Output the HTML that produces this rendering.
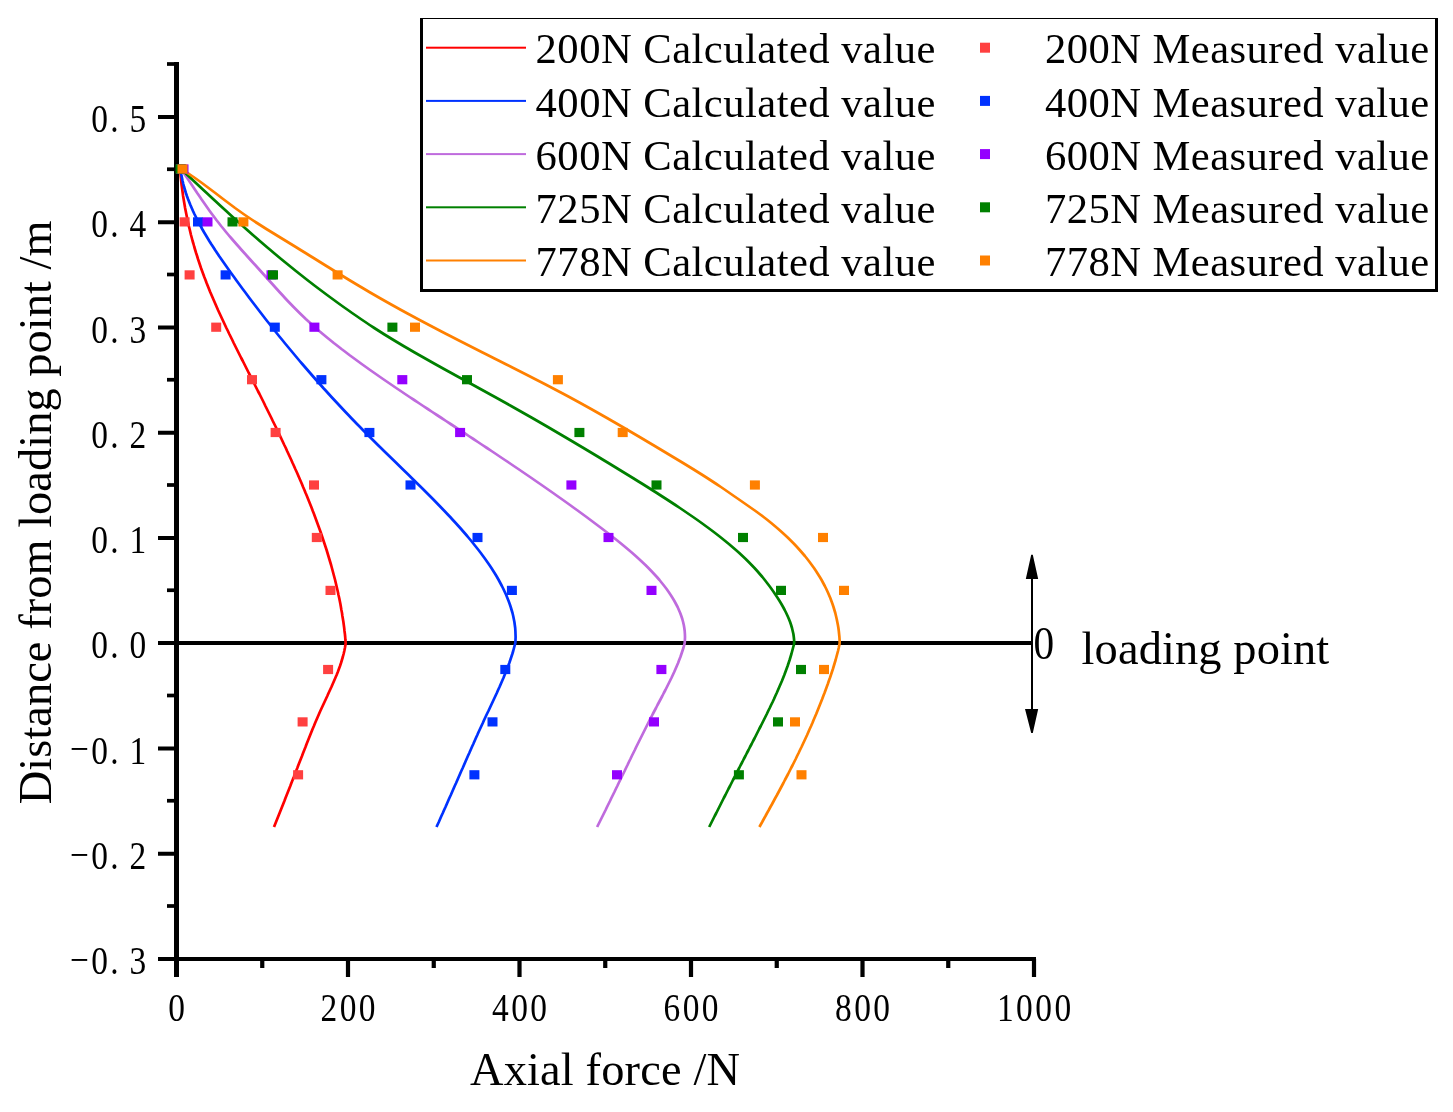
<!DOCTYPE html>
<html lang="en"><head><meta charset="utf-8"><title>Axial force</title>
<style>html,body{margin:0;padding:0;background:#fff;overflow:hidden}svg{display:block}text{font-family:"Liberation Serif",serif;fill:#000}</style></head>
<body><svg width="1453" height="1112" viewBox="0 0 1453 1112">
<rect width="1453" height="1112" fill="#fff"/>
<g fill="#000">
<rect x="174" y="62" width="5" height="915"/>
<rect x="158" y="957" width="878" height="4"/>
<rect x="158" y="641" width="875" height="4"/>
<rect x="158" y="115.00" width="16" height="4"/>
<rect x="158" y="220.25" width="16" height="4"/>
<rect x="158" y="325.50" width="16" height="4"/>
<rect x="158" y="430.75" width="16" height="4"/>
<rect x="158" y="536.00" width="16" height="4"/>
<rect x="158" y="746.50" width="16" height="4"/>
<rect x="158" y="851.75" width="16" height="4"/>
<rect x="167" y="62.15" width="8" height="3.7"/>
<rect x="167" y="167.40" width="8" height="3.7"/>
<rect x="167" y="272.65" width="8" height="3.7"/>
<rect x="167" y="377.90" width="8" height="3.7"/>
<rect x="167" y="483.15" width="8" height="3.7"/>
<rect x="167" y="588.40" width="8" height="3.7"/>
<rect x="167" y="693.65" width="8" height="3.7"/>
<rect x="167" y="798.90" width="8" height="3.7"/>
<rect x="167" y="904.15" width="8" height="3.7"/>
<rect x="345.90" y="959" width="4.2" height="18"/>
<rect x="517.40" y="959" width="4.2" height="18"/>
<rect x="688.90" y="959" width="4.2" height="18"/>
<rect x="860.40" y="959" width="4.2" height="18"/>
<rect x="1031.90" y="959" width="4.2" height="18"/>
<rect x="260.15" y="959" width="4.2" height="9"/>
<rect x="431.65" y="959" width="4.2" height="9"/>
<rect x="603.15" y="959" width="4.2" height="9"/>
<rect x="774.65" y="959" width="4.2" height="9"/>
<rect x="946.15" y="959" width="4.2" height="9"/>
</g>
<g fill="none" stroke-width="2.7" stroke-linejoin="round">
<path d="M180.1,169.0 L180.3,172.0 L180.6,175.0 L180.9,178.0 L181.2,181.0 L181.5,184.0 L181.9,187.0 L182.3,190.0 L182.7,193.0 L183.1,196.0 L183.6,199.0 L184.1,202.0 L184.6,205.0 L185.1,208.0 L185.7,211.0 L186.3,214.0 L186.9,217.0 L187.5,220.0 L188.2,223.0 L188.8,226.0 L189.6,229.0 L190.3,232.0 L191.0,235.0 L191.8,238.0 L192.6,241.0 L193.5,244.0 L194.3,247.0 L195.2,250.0 L196.1,253.0 L197.1,256.0 L198.0,259.0 L199.0,262.0 L200.0,265.0 L201.0,268.0 L202.1,271.0 L203.2,274.0 L204.3,277.0 L205.5,280.0 L206.6,283.0 L207.8,286.0 L209.0,289.0 L210.2,292.0 L211.5,295.0 L212.8,298.0 L214.1,301.0 L215.4,304.0 L216.7,307.0 L218.0,310.0 L219.4,313.0 L220.8,316.0 L222.2,319.0 L223.6,322.0 L225.0,325.0 L226.4,328.0 L227.9,331.0 L229.3,334.0 L230.8,337.0 L232.3,340.0 L233.7,343.0 L235.2,346.0 L236.7,349.0 L238.2,352.0 L239.7,355.0 L241.2,358.0 L242.8,361.0 L244.3,364.0 L245.8,367.0 L247.3,370.0 L248.8,373.0 L250.4,376.0 L251.9,379.0 L253.4,382.0 L254.9,385.0 L256.4,388.0 L257.9,391.0 L259.5,394.0 L261.0,397.0 L262.5,400.0 L264.0,403.0 L265.4,406.0 L266.9,409.0 L268.4,412.0 L269.9,415.0 L271.4,418.0 L272.8,421.0 L274.3,424.0 L275.8,427.0 L277.2,430.0 L278.7,433.0 L280.1,436.0 L281.5,439.0 L282.9,442.0 L284.3,445.0 L285.8,448.0 L287.1,451.0 L288.5,454.0 L289.9,457.0 L291.3,460.0 L292.6,463.0 L294.0,466.0 L295.3,469.0 L296.7,472.0 L298.0,475.0 L299.3,478.0 L300.6,481.0 L301.9,484.0 L303.1,487.0 L304.4,490.0 L305.6,493.0 L306.9,496.0 L308.1,499.0 L309.3,502.0 L310.5,505.0 L311.7,508.0 L312.8,511.0 L314.0,514.0 L315.1,517.0 L316.2,520.0 L317.3,523.0 L318.4,526.0 L319.5,529.0 L320.6,532.0 L321.6,535.0 L322.6,538.0 L323.6,541.0 L324.6,544.0 L325.6,547.0 L326.6,550.0 L327.5,553.0 L328.4,556.0 L329.3,559.0 L330.2,562.0 L331.1,565.0 L331.9,568.0 L332.7,571.0 L333.5,574.0 L334.3,577.0 L335.1,580.0 L335.8,583.0 L336.5,586.0 L337.2,589.0 L337.9,592.0 L338.5,595.0 L339.2,598.0 L339.8,601.0 L340.4,604.0 L340.9,607.0 L341.4,610.0 L342.0,613.0 L342.4,616.0 L342.9,619.0 L343.4,622.0 L343.8,625.0 L344.2,628.0 L344.5,631.0 L344.9,634.0 L345.2,637.0 L345.4,640.0 L345.7,643.0 L345.4,645.0 L344.9,648.0 L344.3,651.0 L343.6,654.0 L342.8,657.0 L341.9,660.0 L341.0,663.0 L340.0,666.0 L338.9,669.0 L337.8,672.0 L336.6,675.0 L335.3,678.0 L334.0,681.0 L332.7,684.0 L331.4,687.0 L330.0,690.0 L328.6,693.0 L327.3,696.0 L325.9,699.0 L324.5,702.0 L323.1,705.0 L321.7,708.0 L320.3,711.0 L319.0,714.0 L317.7,717.0 L316.4,720.0 L315.1,723.0 L313.9,726.0 L312.6,729.0 L311.4,732.0 L310.2,735.0 L309.0,738.0 L307.8,741.0 L306.6,744.0 L305.5,747.0 L304.3,750.0 L303.1,753.0 L302.0,756.0 L300.8,759.0 L299.6,762.0 L298.4,765.0 L297.3,768.0 L296.1,771.0 L294.9,774.0 L293.8,777.0 L292.6,780.0 L291.4,783.0 L290.3,786.0 L289.1,789.0 L287.9,792.0 L286.7,795.0 L285.5,798.0 L284.4,801.0 L283.2,804.0 L282.0,807.0 L280.8,810.0 L279.6,813.0 L278.4,816.0 L277.2,819.0 L276.0,822.0 L274.8,825.0 L274.0,827.0" stroke="#ff0000"/>
<path d="M180.5,169.0 L180.9,172.0 L181.4,175.0 L182.0,178.0 L182.6,181.0 L183.3,184.0 L184.1,187.0 L185.0,190.0 L185.9,193.0 L186.9,196.0 L188.0,199.0 L189.2,202.0 L190.4,205.0 L191.7,208.0 L193.0,211.0 L194.4,214.0 L195.9,217.0 L197.4,220.0 L198.9,223.0 L200.6,226.0 L202.2,229.0 L203.9,232.0 L205.7,235.0 L207.5,238.0 L209.3,241.0 L211.2,244.0 L213.2,247.0 L215.1,250.0 L217.1,253.0 L219.1,256.0 L221.2,259.0 L223.3,262.0 L225.4,265.0 L227.5,268.0 L229.6,271.0 L231.8,274.0 L234.0,277.0 L236.1,280.0 L238.3,283.0 L240.5,286.0 L242.7,289.0 L245.0,292.0 L247.2,295.0 L249.4,298.0 L251.7,301.0 L254.0,304.0 L256.3,307.0 L258.6,310.0 L260.9,313.0 L263.2,316.0 L265.5,319.0 L267.9,322.0 L270.3,325.0 L272.6,328.0 L275.0,331.0 L277.4,334.0 L279.8,337.0 L282.3,340.0 L284.7,343.0 L287.2,346.0 L289.7,349.0 L292.2,352.0 L294.7,355.0 L297.2,358.0 L299.7,361.0 L302.3,364.0 L304.9,367.0 L307.5,370.0 L310.1,373.0 L312.7,376.0 L315.3,379.0 L318.0,382.0 L320.7,385.0 L323.3,388.0 L326.1,391.0 L328.8,394.0 L331.5,397.0 L334.3,400.0 L337.1,403.0 L339.9,406.0 L342.7,409.0 L345.5,412.0 L348.4,415.0 L351.2,418.0 L354.1,421.0 L357.0,424.0 L360.0,427.0 L362.9,430.0 L365.9,433.0 L368.9,436.0 L371.9,439.0 L374.9,442.0 L377.9,445.0 L381.0,448.0 L384.0,451.0 L387.1,454.0 L390.2,457.0 L393.3,460.0 L396.4,463.0 L399.4,466.0 L402.5,469.0 L405.6,472.0 L408.7,475.0 L411.7,478.0 L414.8,481.0 L417.8,484.0 L420.9,487.0 L423.9,490.0 L426.9,493.0 L429.9,496.0 L432.9,499.0 L435.8,502.0 L438.7,505.0 L441.6,508.0 L444.5,511.0 L447.3,514.0 L450.2,517.0 L452.9,520.0 L455.7,523.0 L458.4,526.0 L461.1,529.0 L463.7,532.0 L466.3,535.0 L468.8,538.0 L471.3,541.0 L473.7,544.0 L476.1,547.0 L478.5,550.0 L480.8,553.0 L483.0,556.0 L485.2,559.0 L487.3,562.0 L489.4,565.0 L491.4,568.0 L493.3,571.0 L495.2,574.0 L497.0,577.0 L498.7,580.0 L500.3,583.0 L501.9,586.0 L503.4,589.0 L504.8,592.0 L506.2,595.0 L507.4,598.0 L508.6,601.0 L509.7,604.0 L510.7,607.0 L511.6,610.0 L512.5,613.0 L513.2,616.0 L513.8,619.0 L514.4,622.0 L514.8,625.0 L515.2,628.0 L515.4,631.0 L515.5,634.0 L515.6,637.0 L515.5,640.0 L515.3,643.0 L514.8,645.0 L514.0,648.0 L513.2,651.0 L512.3,654.0 L511.3,657.0 L510.3,660.0 L509.3,663.0 L508.2,666.0 L507.0,669.0 L505.9,672.0 L504.6,675.0 L503.4,678.0 L502.1,681.0 L500.8,684.0 L499.5,687.0 L498.1,690.0 L496.8,693.0 L495.4,696.0 L494.0,699.0 L492.6,702.0 L491.2,705.0 L489.8,708.0 L488.4,711.0 L486.9,714.0 L485.5,717.0 L484.1,720.0 L482.8,723.0 L481.4,726.0 L480.0,729.0 L478.6,732.0 L477.3,735.0 L475.9,738.0 L474.6,741.0 L473.3,744.0 L471.9,747.0 L470.6,750.0 L469.3,753.0 L467.9,756.0 L466.6,759.0 L465.3,762.0 L464.0,765.0 L462.7,768.0 L461.3,771.0 L460.0,774.0 L458.7,777.0 L457.4,780.0 L456.1,783.0 L454.7,786.0 L453.4,789.0 L452.1,792.0 L450.8,795.0 L449.4,798.0 L448.1,801.0 L446.8,804.0 L445.5,807.0 L444.1,810.0 L442.8,813.0 L441.4,816.0 L440.1,819.0 L438.8,822.0 L437.4,825.0 L436.5,827.0" stroke="#0032ff"/>
<path d="M181.0,169.0 L183.1,172.0 L185.1,175.0 L187.2,178.0 L189.2,181.0 L191.2,184.0 L193.2,187.0 L195.2,190.0 L197.2,193.0 L199.3,196.0 L201.3,199.0 L203.4,202.0 L205.5,205.0 L207.6,208.0 L209.7,211.0 L211.9,214.0 L214.2,217.0 L216.4,220.0 L218.8,223.0 L221.1,226.0 L223.6,229.0 L226.0,232.0 L228.5,235.0 L231.1,238.0 L233.7,241.0 L236.3,244.0 L239.0,247.0 L241.6,250.0 L244.3,253.0 L247.0,256.0 L249.7,259.0 L252.4,262.0 L255.2,265.0 L257.9,268.0 L260.6,271.0 L263.3,274.0 L266.0,277.0 L268.7,280.0 L271.4,283.0 L274.1,286.0 L276.8,289.0 L279.5,292.0 L282.3,295.0 L285.0,298.0 L287.8,301.0 L290.7,304.0 L293.6,307.0 L296.6,310.0 L299.6,313.0 L302.7,316.0 L305.8,319.0 L309.1,322.0 L312.4,325.0 L315.8,328.0 L319.2,331.0 L322.8,334.0 L326.4,337.0 L330.1,340.0 L333.8,343.0 L337.7,346.0 L341.5,349.0 L345.5,352.0 L349.4,355.0 L353.5,358.0 L357.6,361.0 L361.7,364.0 L365.9,367.0 L370.1,370.0 L374.4,373.0 L378.7,376.0 L383.0,379.0 L387.4,382.0 L391.8,385.0 L396.2,388.0 L400.7,391.0 L405.1,394.0 L409.6,397.0 L414.2,400.0 L418.7,403.0 L423.2,406.0 L427.8,409.0 L432.3,412.0 L436.9,415.0 L441.5,418.0 L446.0,421.0 L450.6,424.0 L455.2,427.0 L459.7,430.0 L464.3,433.0 L468.8,436.0 L473.4,439.0 L477.9,442.0 L482.4,445.0 L487.0,448.0 L491.5,451.0 L496.0,454.0 L500.4,457.0 L504.9,460.0 L509.4,463.0 L513.8,466.0 L518.3,469.0 L522.7,472.0 L527.1,475.0 L531.5,478.0 L535.8,481.0 L540.2,484.0 L544.5,487.0 L548.8,490.0 L553.1,493.0 L557.3,496.0 L561.6,499.0 L565.8,502.0 L570.0,505.0 L574.1,508.0 L578.3,511.0 L582.4,514.0 L586.5,517.0 L590.5,520.0 L594.5,523.0 L598.5,526.0 L602.5,529.0 L606.4,532.0 L610.3,535.0 L614.1,538.0 L617.9,541.0 L621.6,544.0 L625.2,547.0 L628.8,550.0 L632.3,553.0 L635.7,556.0 L639.0,559.0 L642.2,562.0 L645.4,565.0 L648.4,568.0 L651.3,571.0 L654.1,574.0 L656.9,577.0 L659.5,580.0 L661.9,583.0 L664.3,586.0 L666.6,589.0 L668.7,592.0 L670.7,595.0 L672.6,598.0 L674.4,601.0 L676.0,604.0 L677.6,607.0 L678.9,610.0 L680.2,613.0 L681.3,616.0 L682.3,619.0 L683.1,622.0 L683.8,625.0 L684.3,628.0 L684.7,631.0 L684.9,634.0 L685.0,637.0 L684.9,640.0 L684.7,643.0 L684.2,645.0 L683.4,648.0 L682.4,651.0 L681.4,654.0 L680.4,657.0 L679.2,660.0 L678.1,663.0 L676.8,666.0 L675.5,669.0 L674.2,672.0 L672.8,675.0 L671.4,678.0 L669.9,681.0 L668.4,684.0 L666.9,687.0 L665.4,690.0 L663.8,693.0 L662.3,696.0 L660.7,699.0 L659.1,702.0 L657.5,705.0 L656.0,708.0 L654.4,711.0 L652.8,714.0 L651.3,717.0 L649.7,720.0 L648.2,723.0 L646.7,726.0 L645.2,729.0 L643.7,732.0 L642.2,735.0 L640.7,738.0 L639.2,741.0 L637.7,744.0 L636.2,747.0 L634.8,750.0 L633.3,753.0 L631.8,756.0 L630.4,759.0 L628.9,762.0 L627.5,765.0 L626.0,768.0 L624.6,771.0 L623.1,774.0 L621.6,777.0 L620.2,780.0 L618.7,783.0 L617.3,786.0 L615.8,789.0 L614.4,792.0 L612.9,795.0 L611.4,798.0 L610.0,801.0 L608.5,804.0 L607.0,807.0 L605.6,810.0 L604.1,813.0 L602.6,816.0 L601.1,819.0 L599.6,822.0 L598.1,825.0 L597.1,827.0" stroke="#bf6bdd"/>
<path d="M181.0,169.0 L184.2,172.0 L187.4,175.0 L190.6,178.0 L193.8,181.0 L197.0,184.0 L200.2,187.0 L203.4,190.0 L206.7,193.0 L209.9,196.0 L213.1,199.0 L216.4,202.0 L219.6,205.0 L222.9,208.0 L226.2,211.0 L229.4,214.0 L232.7,217.0 L236.1,220.0 L239.4,223.0 L242.8,226.0 L246.1,229.0 L249.5,232.0 L252.9,235.0 L256.4,238.0 L259.8,241.0 L263.3,244.0 L266.8,247.0 L270.4,250.0 L273.9,253.0 L277.5,256.0 L281.1,259.0 L284.8,262.0 L288.5,265.0 L292.2,268.0 L295.9,271.0 L299.7,274.0 L303.5,277.0 L307.3,280.0 L311.2,283.0 L315.1,286.0 L319.1,289.0 L323.1,292.0 L327.1,295.0 L331.2,298.0 L335.3,301.0 L339.4,304.0 L343.6,307.0 L347.9,310.0 L352.1,313.0 L356.5,316.0 L360.8,319.0 L365.3,322.0 L369.7,325.0 L374.3,328.0 L379.0,331.0 L383.7,334.0 L388.6,337.0 L393.5,340.0 L398.5,343.0 L403.5,346.0 L408.7,349.0 L413.8,352.0 L419.1,355.0 L424.4,358.0 L429.7,361.0 L435.0,364.0 L440.4,367.0 L445.8,370.0 L451.3,373.0 L456.7,376.0 L462.2,379.0 L467.7,382.0 L473.2,385.0 L478.6,388.0 L484.1,391.0 L489.5,394.0 L495.0,397.0 L500.4,400.0 L505.8,403.0 L511.1,406.0 L516.4,409.0 L521.7,412.0 L527.0,415.0 L532.3,418.0 L537.5,421.0 L542.7,424.0 L547.9,427.0 L553.0,430.0 L558.1,433.0 L563.2,436.0 L568.3,439.0 L573.4,442.0 L578.4,445.0 L583.5,448.0 L588.5,451.0 L593.5,454.0 L598.5,457.0 L603.4,460.0 L608.4,463.0 L613.3,466.0 L618.2,469.0 L623.1,472.0 L628.0,475.0 L632.9,478.0 L637.7,481.0 L642.6,484.0 L647.4,487.0 L652.1,490.0 L656.9,493.0 L661.5,496.0 L666.2,499.0 L670.8,502.0 L675.4,505.0 L679.9,508.0 L684.3,511.0 L688.7,514.0 L693.1,517.0 L697.4,520.0 L701.6,523.0 L705.7,526.0 L709.8,529.0 L713.8,532.0 L717.7,535.0 L721.5,538.0 L725.2,541.0 L728.9,544.0 L732.4,547.0 L735.9,550.0 L739.3,553.0 L742.5,556.0 L745.7,559.0 L748.7,562.0 L751.6,565.0 L754.5,568.0 L757.2,571.0 L759.8,574.0 L762.4,577.0 L764.8,580.0 L767.1,583.0 L769.4,586.0 L771.6,589.0 L773.7,592.0 L775.7,595.0 L777.7,598.0 L779.6,601.0 L781.4,604.0 L783.1,607.0 L784.7,610.0 L786.2,613.0 L787.6,616.0 L788.9,619.0 L790.1,622.0 L791.1,625.0 L792.0,628.0 L792.7,631.0 L793.4,634.0 L793.8,637.0 L794.1,640.0 L794.2,643.0 L793.8,645.0 L793.0,648.0 L792.2,651.0 L791.4,654.0 L790.5,657.0 L789.6,660.0 L788.6,663.0 L787.6,666.0 L786.5,669.0 L785.4,672.0 L784.3,675.0 L783.1,678.0 L781.9,681.0 L780.6,684.0 L779.3,687.0 L778.0,690.0 L776.7,693.0 L775.3,696.0 L774.0,699.0 L772.6,702.0 L771.1,705.0 L769.7,708.0 L768.2,711.0 L766.8,714.0 L765.3,717.0 L763.8,720.0 L762.3,723.0 L760.8,726.0 L759.2,729.0 L757.7,732.0 L756.2,735.0 L754.7,738.0 L753.1,741.0 L751.6,744.0 L750.0,747.0 L748.5,750.0 L746.9,753.0 L745.4,756.0 L743.8,759.0 L742.3,762.0 L740.7,765.0 L739.2,768.0 L737.6,771.0 L736.1,774.0 L734.6,777.0 L733.0,780.0 L731.5,783.0 L730.0,786.0 L728.4,789.0 L726.9,792.0 L725.4,795.0 L723.8,798.0 L722.3,801.0 L720.8,804.0 L719.3,807.0 L717.8,810.0 L716.3,813.0 L714.7,816.0 L713.2,819.0 L711.7,822.0 L710.2,825.0 L709.2,827.0" stroke="#008000"/>
<path d="M181.5,169.0 L186.1,172.0 L190.6,175.0 L195.0,178.0 L199.2,181.0 L203.3,184.0 L207.3,187.0 L211.3,190.0 L215.3,193.0 L219.2,196.0 L223.1,199.0 L227.1,202.0 L231.1,205.0 L235.1,208.0 L239.3,211.0 L243.5,214.0 L247.9,217.0 L252.4,220.0 L257.0,223.0 L261.7,226.0 L266.4,229.0 L271.3,232.0 L276.2,235.0 L281.1,238.0 L286.0,241.0 L290.9,244.0 L295.8,247.0 L300.6,250.0 L305.5,253.0 L310.3,256.0 L315.2,259.0 L320.0,262.0 L324.8,265.0 L329.7,268.0 L334.5,271.0 L339.4,274.0 L344.3,277.0 L349.2,280.0 L354.2,283.0 L359.2,286.0 L364.3,289.0 L369.3,292.0 L374.5,295.0 L379.7,298.0 L385.0,301.0 L390.3,304.0 L395.7,307.0 L401.1,310.0 L406.6,313.0 L412.2,316.0 L417.7,319.0 L423.4,322.0 L429.1,325.0 L434.8,328.0 L440.5,331.0 L446.3,334.0 L452.2,337.0 L458.0,340.0 L463.9,343.0 L469.8,346.0 L475.7,349.0 L481.6,352.0 L487.6,355.0 L493.5,358.0 L499.5,361.0 L505.4,364.0 L511.4,367.0 L517.3,370.0 L523.2,373.0 L529.1,376.0 L534.9,379.0 L540.8,382.0 L546.6,385.0 L552.3,388.0 L558.0,391.0 L563.7,394.0 L569.3,397.0 L574.8,400.0 L580.3,403.0 L585.7,406.0 L591.1,409.0 L596.4,412.0 L601.7,415.0 L607.0,418.0 L612.2,421.0 L617.4,424.0 L622.6,427.0 L627.7,430.0 L632.8,433.0 L637.9,436.0 L643.0,439.0 L648.0,442.0 L653.1,445.0 L658.1,448.0 L663.1,451.0 L668.1,454.0 L673.1,457.0 L678.1,460.0 L683.1,463.0 L688.0,466.0 L692.9,469.0 L697.7,472.0 L702.5,475.0 L707.2,478.0 L711.8,481.0 L716.4,484.0 L720.9,487.0 L725.3,490.0 L729.6,493.0 L733.9,496.0 L738.3,499.0 L742.6,502.0 L746.9,505.0 L751.2,508.0 L755.5,511.0 L759.6,514.0 L763.6,517.0 L767.5,520.0 L771.2,523.0 L774.8,526.0 L778.3,529.0 L781.7,532.0 L785.0,535.0 L788.2,538.0 L791.2,541.0 L794.2,544.0 L797.0,547.0 L799.7,550.0 L802.3,553.0 L804.9,556.0 L807.3,559.0 L809.6,562.0 L811.8,565.0 L814.0,568.0 L816.0,571.0 L817.9,574.0 L819.8,577.0 L821.6,580.0 L823.2,583.0 L824.8,586.0 L826.3,589.0 L827.7,592.0 L829.0,595.0 L830.3,598.0 L831.4,601.0 L832.5,604.0 L833.5,607.0 L834.4,610.0 L835.3,613.0 L836.0,616.0 L836.7,619.0 L837.3,622.0 L837.9,625.0 L838.4,628.0 L838.8,631.0 L839.1,634.0 L839.4,637.0 L839.6,640.0 L839.7,643.0 L839.3,645.0 L838.7,648.0 L838.0,651.0 L837.2,654.0 L836.4,657.0 L835.6,660.0 L834.7,663.0 L833.8,666.0 L832.9,669.0 L831.9,672.0 L830.9,675.0 L829.9,678.0 L828.8,681.0 L827.8,684.0 L826.7,687.0 L825.6,690.0 L824.5,693.0 L823.3,696.0 L822.2,699.0 L821.0,702.0 L819.8,705.0 L818.6,708.0 L817.4,711.0 L816.2,714.0 L814.9,717.0 L813.6,720.0 L812.4,723.0 L811.1,726.0 L809.7,729.0 L808.4,732.0 L807.1,735.0 L805.7,738.0 L804.3,741.0 L802.9,744.0 L801.5,747.0 L800.0,750.0 L798.6,753.0 L797.1,756.0 L795.7,759.0 L794.2,762.0 L792.7,765.0 L791.1,768.0 L789.6,771.0 L788.1,774.0 L786.5,777.0 L784.9,780.0 L783.4,783.0 L781.8,786.0 L780.2,789.0 L778.6,792.0 L777.0,795.0 L775.3,798.0 L773.7,801.0 L772.1,804.0 L770.4,807.0 L768.8,810.0 L767.1,813.0 L765.5,816.0 L763.8,819.0 L762.2,822.0 L760.5,825.0 L759.4,827.0" stroke="#ff8000"/>
</g>
<g fill="#ff4040"><rect x="176.0" y="164.4" width="10" height="9.2"/><rect x="179.6" y="217.3" width="10" height="9.2"/><rect x="184.6" y="270.3" width="10" height="9.2"/><rect x="211.2" y="322.6" width="10" height="9.2"/><rect x="247.0" y="375.1" width="10" height="9.2"/><rect x="270.6" y="427.9" width="10" height="9.2"/><rect x="309.0" y="480.4" width="10" height="9.2"/><rect x="311.8" y="532.9" width="10" height="9.2"/><rect x="325.5" y="585.8" width="10" height="9.2"/><rect x="323.1" y="664.9" width="10" height="9.2"/><rect x="297.6" y="717.3" width="10" height="9.2"/><rect x="293.1" y="770.2" width="10" height="9.2"/></g>
<g fill="#0032ff"><rect x="176.0" y="164.4" width="10" height="9.2"/><rect x="193.0" y="217.3" width="10" height="9.2"/><rect x="220.6" y="270.3" width="10" height="9.2"/><rect x="269.8" y="322.6" width="10" height="9.2"/><rect x="316.4" y="375.1" width="10" height="9.2"/><rect x="364.4" y="427.9" width="10" height="9.2"/><rect x="405.5" y="480.4" width="10" height="9.2"/><rect x="472.5" y="532.9" width="10" height="9.2"/><rect x="506.9" y="585.8" width="10" height="9.2"/><rect x="500.3" y="664.9" width="10" height="9.2"/><rect x="487.5" y="717.3" width="10" height="9.2"/><rect x="469.4" y="770.2" width="10" height="9.2"/></g>
<g fill="#9400ff"><rect x="178.5" y="164.4" width="10" height="9.2"/><rect x="202.5" y="217.3" width="10" height="9.2"/><rect x="266.5" y="270.3" width="10" height="9.2"/><rect x="309.4" y="322.6" width="10" height="9.2"/><rect x="397.3" y="375.1" width="10" height="9.2"/><rect x="455.1" y="427.9" width="10" height="9.2"/><rect x="566.4" y="480.4" width="10" height="9.2"/><rect x="603.5" y="532.9" width="10" height="9.2"/><rect x="646.5" y="585.8" width="10" height="9.2"/><rect x="656.4" y="664.9" width="10" height="9.2"/><rect x="649.0" y="717.3" width="10" height="9.2"/><rect x="612.0" y="770.2" width="10" height="9.2"/></g>
<g fill="#008000"><rect x="175.5" y="164.4" width="10" height="9.2"/><rect x="227.5" y="217.3" width="10" height="9.2"/><rect x="268.0" y="270.3" width="10" height="9.2"/><rect x="387.4" y="322.6" width="10" height="9.2"/><rect x="462.0" y="375.1" width="10" height="9.2"/><rect x="574.4" y="427.9" width="10" height="9.2"/><rect x="651.5" y="480.4" width="10" height="9.2"/><rect x="738.0" y="532.9" width="10" height="9.2"/><rect x="776.0" y="585.8" width="10" height="9.2"/><rect x="796.0" y="664.9" width="10" height="9.2"/><rect x="773.0" y="717.3" width="10" height="9.2"/><rect x="733.9" y="770.2" width="10" height="9.2"/></g>
<g fill="#ff8000"><rect x="177.5" y="164.4" width="10" height="9.2"/><rect x="238.4" y="217.3" width="10" height="9.2"/><rect x="332.6" y="270.3" width="10" height="9.2"/><rect x="410.0" y="322.6" width="10" height="9.2"/><rect x="552.9" y="375.1" width="10" height="9.2"/><rect x="617.7" y="427.9" width="10" height="9.2"/><rect x="749.9" y="480.4" width="10" height="9.2"/><rect x="818.0" y="532.9" width="10" height="9.2"/><rect x="839.0" y="585.8" width="10" height="9.2"/><rect x="819.0" y="664.9" width="10" height="9.2"/><rect x="790.0" y="717.3" width="10" height="9.2"/><rect x="796.5" y="770.2" width="10" height="9.2"/></g>

<text transform="translate(0,132.0) scale(0.85,1)" font-size="39.3" x="107.24 129.76 152.29">0.5</text>
<text transform="translate(0,237.2) scale(0.85,1)" font-size="39.3" x="107.24 129.76 152.29">0.4</text>
<text transform="translate(0,342.5) scale(0.85,1)" font-size="39.3" x="107.24 129.76 152.29">0.3</text>
<text transform="translate(0,447.8) scale(0.85,1)" font-size="39.3" x="107.24 129.76 152.29">0.2</text>
<text transform="translate(0,553.0) scale(0.85,1)" font-size="39.3" x="107.24 129.76 152.29">0.1</text>
<text transform="translate(0,658.2) scale(0.85,1)" font-size="39.3" x="107.24 129.76 152.29">0.0</text>
<text transform="translate(0,763.5) scale(0.85,1)" font-size="39.3" x="82.47 107.24 129.76 152.29" dy="-1.1 1.1">−0.1</text>
<text transform="translate(0,868.8) scale(0.85,1)" font-size="39.3" x="82.47 107.24 129.76 152.29" dy="-1.1 1.1">−0.2</text>
<text transform="translate(0,974.0) scale(0.85,1)" font-size="39.3" x="82.47 107.24 129.76 152.29" dy="-1.1 1.1">−0.3</text>
<text transform="translate(0,1021.3) scale(0.85,1)" font-size="39.3" x="197.85">0</text>
<text transform="translate(0,1021.3) scale(0.85,1)" font-size="39.3" x="377.09 399.62 422.15">200</text>
<text transform="translate(0,1021.3) scale(0.85,1)" font-size="39.3" x="578.85 601.38 623.91">400</text>
<text transform="translate(0,1021.3) scale(0.85,1)" font-size="39.3" x="780.62 803.15 825.68">600</text>
<text transform="translate(0,1021.3) scale(0.85,1)" font-size="39.3" x="982.38 1004.91 1027.44">800</text>
<text transform="translate(0,1021.3) scale(0.85,1)" font-size="39.3" x="1172.88 1195.41 1217.94 1240.47">1000</text>
<text x="470" y="1085.3" font-size="46.4" textLength="270" lengthAdjust="spacing">Axial force /N</text>
<text transform="translate(50.8,804.2) rotate(-90)" font-size="46.4" textLength="583.8" lengthAdjust="spacing">Distance from loading point /m</text>
<g fill="#000" shape-rendering="crispEdges"><rect x="420" y="18" width="3" height="274"/><rect x="1435" y="18" width="3" height="274"/><rect x="420" y="289" width="1018" height="3"/><rect x="420" y="18" width="1018" height="1"/></g>
<rect x="426" y="46.7" width="100" height="2" fill="#ff0000"/>
<text x="535.6" y="63.4" font-size="42.6" textLength="399.8" lengthAdjust="spacing">200N Calculated value</text>
<rect x="980" y="42.7" width="10" height="10" fill="#ff4040"/>
<text x="1045" y="63.4" font-size="42.6" textLength="384.2" lengthAdjust="spacing">200N Measured value</text>
<rect x="426" y="99.9" width="100" height="2" fill="#0032ff"/>
<text x="535.6" y="116.6" font-size="42.6" textLength="399.8" lengthAdjust="spacing">400N Calculated value</text>
<rect x="980" y="95.9" width="10" height="10" fill="#0032ff"/>
<text x="1045" y="116.6" font-size="42.6" textLength="384.2" lengthAdjust="spacing">400N Measured value</text>
<rect x="426" y="153.1" width="100" height="2" fill="#bf6bdd"/>
<text x="535.6" y="169.8" font-size="42.6" textLength="399.8" lengthAdjust="spacing">600N Calculated value</text>
<rect x="980" y="149.1" width="10" height="10" fill="#9400ff"/>
<text x="1045" y="169.8" font-size="42.6" textLength="384.2" lengthAdjust="spacing">600N Measured value</text>
<rect x="426" y="206.3" width="100" height="2" fill="#008000"/>
<text x="535.6" y="223.0" font-size="42.6" textLength="399.8" lengthAdjust="spacing">725N Calculated value</text>
<rect x="980" y="202.3" width="10" height="10" fill="#008000"/>
<text x="1045" y="223.0" font-size="42.6" textLength="384.2" lengthAdjust="spacing">725N Measured value</text>
<rect x="426" y="259.5" width="100" height="2" fill="#ff8000"/>
<text x="535.6" y="276.2" font-size="42.6" textLength="399.8" lengthAdjust="spacing">778N Calculated value</text>
<rect x="980" y="255.5" width="10" height="10" fill="#ff8000"/>
<text x="1045" y="276.2" font-size="42.6" textLength="384.2" lengthAdjust="spacing">778N Measured value</text>
<rect x="1031" y="570" width="2" height="150" fill="#000"/>
<path d="M1031.2,554.8 L1032.8,554.8 L1038.2,579 L1025.8,579 Z M1025,709 L1038.2,709 L1032.8,733 L1031.2,733 Z" fill="#000"/>
<text transform="translate(1033.6,659) scale(0.89,1)" font-size="46.4">0</text>
<text x="1081.6" y="663.7" font-size="46.4" textLength="247.6" lengthAdjust="spacing">loading point</text>
</svg></body></html>
